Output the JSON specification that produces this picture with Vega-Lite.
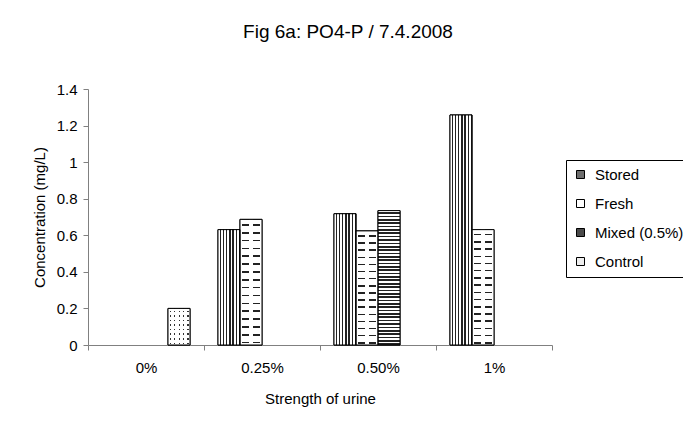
{
  "$schema": "https://vega.github.io/schema/vega-lite/v6.json",
  "width": 464,
  "height": 256,
  "autosize": {"type": "none"},
  "padding": {"left": 88, "top": 89, "right": 131, "bottom": 83},
  "background": "white",
  "title": {"text": "Fig 6a: PO4-P / 7.4.2008", "fontSize": 19, "fontWeight": "normal", "font": "Liberation Sans", "color": "black", "anchor": "middle", "dx": 28, "offset": 40},
  "data": {"values": [
    {"strength": "0%", "series": "Control", "value": 0.2},
    {"strength": "0.25%", "series": "Stored", "value": 0.631},
    {"strength": "0.25%", "series": "Fresh", "value": 0.687},
    {"strength": "0.50%", "series": "Stored", "value": 0.718},
    {"strength": "0.50%", "series": "Fresh", "value": 0.624},
    {"strength": "0.50%", "series": "Mixed (0.5%)", "value": 0.735},
    {"strength": "1%", "series": "Stored", "value": 1.258},
    {"strength": "1%", "series": "Fresh", "value": 0.631}
  ]},
  "encoding": {
    "x": {"field": "strength", "type": "nominal", "sort": null, "title": "Strength of urine",
      "scale": {"domain": ["0%", "0.25%", "0.50%", "1%"], "paddingInner": 0, "paddingOuter": 0},
      "axis": {"labelAngle": 0, "tickBand": "extent", "tickSize": 5, "labelPadding": 10, "titlePadding": 16, "domainColor": "#808080", "tickColor": "#808080", "labelFontSize": 15, "titleFontSize": 15, "titleFontWeight": "normal", "grid": false}},
    "xOffset": {"field": "series", "type": "nominal",
      "scale": {"domain": ["Stored", "Fresh", "Mixed (0.5%)", "Control"], "paddingInner": 0, "paddingOuter": 0.636}},
    "y": {"field": "value", "type": "quantitative", "title": "Concentration (mg/L)",
      "scale": {"domain": [0, 1.4], "nice": false},
      "axis": {"values": [0, 0.2, 0.4, 0.6, 0.8, 1, 1.2, 1.4], "format": "~g", "tickSize": 5, "labelPadding": 6, "titlePadding": 9, "domainColor": "#808080", "tickColor": "#808080", "labelFontSize": 15, "titleFontSize": 15, "titleFontWeight": "normal", "grid": false}}
  },
  "layer": [
    {
      "mark": {"type": "bar", "stroke": "black", "strokeWidth": 1},
      "encoding": {
        "fill": {"field": "series", "type": "nominal",
          "scale": {"domain": ["Stored", "Fresh", "Mixed (0.5%)", "Control"], "range": ["#6e6e6e", "white", "#4a4a4a", "#eeeeee"]},
          "legend": {"title": null, "orient": "none", "legendX": 478, "legendY": 71, "strokeColor": "black", "padding": 7, "symbolType": "square", "symbolSize": 64, "symbolStrokeColor": "black", "symbolStrokeWidth": 1, "labelFontSize": 15, "labelFont": "Liberation Sans", "labelColor": "black", "rowPadding": 13, "labelOffset": 7, "labelLimit": 200}}
      }
    },
    {
      "transform": [{"filter": "datum.series === 'Stored'"}],
      "mark": {"type": "bar", "fill": {"gradient": "linear", "x1": 0, "y1": 0, "x2": 1, "y2": 0, "stops": [
        {"offset": 0, "color": "white"}, {"offset": 0.0857, "color": "white"}, {"offset": 0.0857, "color": "#222"}, {"offset": 0.1429, "color": "#222"},
        {"offset": 0.1429, "color": "white"}, {"offset": 0.2286, "color": "white"}, {"offset": 0.2286, "color": "#222"}, {"offset": 0.2857, "color": "#222"},
        {"offset": 0.2857, "color": "white"}, {"offset": 0.3714, "color": "white"}, {"offset": 0.3714, "color": "#222"}, {"offset": 0.4286, "color": "#222"},
        {"offset": 0.4286, "color": "white"}, {"offset": 0.5143, "color": "white"}, {"offset": 0.5143, "color": "#222"}, {"offset": 0.5714, "color": "#222"},
        {"offset": 0.5714, "color": "white"}, {"offset": 0.6571, "color": "white"}, {"offset": 0.6571, "color": "#222"}, {"offset": 0.7143, "color": "#222"},
        {"offset": 0.7143, "color": "white"}, {"offset": 0.8, "color": "white"}, {"offset": 0.8, "color": "#222"}, {"offset": 0.8571, "color": "#222"},
        {"offset": 0.8571, "color": "white"}, {"offset": 0.9429, "color": "white"}, {"offset": 0.9429, "color": "#222"}, {"offset": 1, "color": "#222"}
      ]}}
    },
    {
      "transform": [{"filter": "datum.series === 'Mixed (0.5%)'"}],
      "mark": {"type": "bar", "fill": {"gradient": "linear", "x1": 0, "y1": 0, "x2": 0, "y2": 1, "stops": [
        {"offset": 0, "color": "white"}, {"offset": 0.0125, "color": "white"}, {"offset": 0.0125, "color": "#222"}, {"offset": 0.025, "color": "#222"},
        {"offset": 0.025, "color": "white"}, {"offset": 0.0375, "color": "white"}, {"offset": 0.0375, "color": "#222"}, {"offset": 0.05, "color": "#222"},
        {"offset": 0.05, "color": "white"}, {"offset": 0.0625, "color": "white"}, {"offset": 0.0625, "color": "#222"}, {"offset": 0.075, "color": "#222"},
        {"offset": 0.075, "color": "white"}, {"offset": 0.0875, "color": "white"}, {"offset": 0.0875, "color": "#222"}, {"offset": 0.1, "color": "#222"},
        {"offset": 0.1, "color": "white"}, {"offset": 0.1125, "color": "white"}, {"offset": 0.1125, "color": "#222"}, {"offset": 0.125, "color": "#222"},
        {"offset": 0.125, "color": "white"}, {"offset": 0.1375, "color": "white"}, {"offset": 0.1375, "color": "#222"}, {"offset": 0.15, "color": "#222"},
        {"offset": 0.15, "color": "white"}, {"offset": 0.1625, "color": "white"}, {"offset": 0.1625, "color": "#222"}, {"offset": 0.175, "color": "#222"},
        {"offset": 0.175, "color": "white"}, {"offset": 0.1875, "color": "white"}, {"offset": 0.1875, "color": "#222"}, {"offset": 0.2, "color": "#222"},
        {"offset": 0.2, "color": "white"}, {"offset": 0.2125, "color": "white"}, {"offset": 0.2125, "color": "#222"}, {"offset": 0.225, "color": "#222"},
        {"offset": 0.225, "color": "white"}, {"offset": 0.2375, "color": "white"}, {"offset": 0.2375, "color": "#222"}, {"offset": 0.25, "color": "#222"},
        {"offset": 0.25, "color": "white"}, {"offset": 0.2625, "color": "white"}, {"offset": 0.2625, "color": "#222"}, {"offset": 0.275, "color": "#222"},
        {"offset": 0.275, "color": "white"}, {"offset": 0.2875, "color": "white"}, {"offset": 0.2875, "color": "#222"}, {"offset": 0.3, "color": "#222"},
        {"offset": 0.3, "color": "white"}, {"offset": 0.3125, "color": "white"}, {"offset": 0.3125, "color": "#222"}, {"offset": 0.325, "color": "#222"},
        {"offset": 0.325, "color": "white"}, {"offset": 0.3375, "color": "white"}, {"offset": 0.3375, "color": "#222"}, {"offset": 0.35, "color": "#222"},
        {"offset": 0.35, "color": "white"}, {"offset": 0.3625, "color": "white"}, {"offset": 0.3625, "color": "#222"}, {"offset": 0.375, "color": "#222"},
        {"offset": 0.375, "color": "white"}, {"offset": 0.3875, "color": "white"}, {"offset": 0.3875, "color": "#222"}, {"offset": 0.4, "color": "#222"},
        {"offset": 0.4, "color": "white"}, {"offset": 0.4125, "color": "white"}, {"offset": 0.4125, "color": "#222"}, {"offset": 0.425, "color": "#222"},
        {"offset": 0.425, "color": "white"}, {"offset": 0.4375, "color": "white"}, {"offset": 0.4375, "color": "#222"}, {"offset": 0.45, "color": "#222"},
        {"offset": 0.45, "color": "white"}, {"offset": 0.4625, "color": "white"}, {"offset": 0.4625, "color": "#222"}, {"offset": 0.475, "color": "#222"},
        {"offset": 0.475, "color": "white"}, {"offset": 0.4875, "color": "white"}, {"offset": 0.4875, "color": "#222"}, {"offset": 0.5, "color": "#222"},
        {"offset": 0.5, "color": "white"}, {"offset": 0.5125, "color": "white"}, {"offset": 0.5125, "color": "#222"}, {"offset": 0.525, "color": "#222"},
        {"offset": 0.525, "color": "white"}, {"offset": 0.5375, "color": "white"}, {"offset": 0.5375, "color": "#222"}, {"offset": 0.55, "color": "#222"},
        {"offset": 0.55, "color": "white"}, {"offset": 0.5625, "color": "white"}, {"offset": 0.5625, "color": "#222"}, {"offset": 0.575, "color": "#222"},
        {"offset": 0.575, "color": "white"}, {"offset": 0.5875, "color": "white"}, {"offset": 0.5875, "color": "#222"}, {"offset": 0.6, "color": "#222"},
        {"offset": 0.6, "color": "white"}, {"offset": 0.6125, "color": "white"}, {"offset": 0.6125, "color": "#222"}, {"offset": 0.625, "color": "#222"},
        {"offset": 0.625, "color": "white"}, {"offset": 0.6375, "color": "white"}, {"offset": 0.6375, "color": "#222"}, {"offset": 0.65, "color": "#222"},
        {"offset": 0.65, "color": "white"}, {"offset": 0.6625, "color": "white"}, {"offset": 0.6625, "color": "#222"}, {"offset": 0.675, "color": "#222"},
        {"offset": 0.675, "color": "white"}, {"offset": 0.6875, "color": "white"}, {"offset": 0.6875, "color": "#222"}, {"offset": 0.7, "color": "#222"},
        {"offset": 0.7, "color": "white"}, {"offset": 0.7125, "color": "white"}, {"offset": 0.7125, "color": "#222"}, {"offset": 0.725, "color": "#222"},
        {"offset": 0.725, "color": "white"}, {"offset": 0.7375, "color": "white"}, {"offset": 0.7375, "color": "#222"}, {"offset": 0.75, "color": "#222"},
        {"offset": 0.75, "color": "white"}, {"offset": 0.7625, "color": "white"}, {"offset": 0.7625, "color": "#222"}, {"offset": 0.775, "color": "#222"},
        {"offset": 0.775, "color": "white"}, {"offset": 0.7875, "color": "white"}, {"offset": 0.7875, "color": "#222"}, {"offset": 0.8, "color": "#222"},
        {"offset": 0.8, "color": "white"}, {"offset": 0.8125, "color": "white"}, {"offset": 0.8125, "color": "#222"}, {"offset": 0.825, "color": "#222"},
        {"offset": 0.825, "color": "white"}, {"offset": 0.8375, "color": "white"}, {"offset": 0.8375, "color": "#222"}, {"offset": 0.85, "color": "#222"},
        {"offset": 0.85, "color": "white"}, {"offset": 0.8625, "color": "white"}, {"offset": 0.8625, "color": "#222"}, {"offset": 0.875, "color": "#222"},
        {"offset": 0.875, "color": "white"}, {"offset": 0.8875, "color": "white"}, {"offset": 0.8875, "color": "#222"}, {"offset": 0.9, "color": "#222"},
        {"offset": 0.9, "color": "white"}, {"offset": 0.9125, "color": "white"}, {"offset": 0.9125, "color": "#222"}, {"offset": 0.925, "color": "#222"},
        {"offset": 0.925, "color": "white"}, {"offset": 0.9375, "color": "white"}, {"offset": 0.9375, "color": "#222"}, {"offset": 0.95, "color": "#222"},
        {"offset": 0.95, "color": "white"}, {"offset": 0.9625, "color": "white"}, {"offset": 0.9625, "color": "#222"}, {"offset": 0.975, "color": "#222"},
        {"offset": 0.975, "color": "white"}, {"offset": 0.9875, "color": "white"}, {"offset": 0.9875, "color": "#222"}, {"offset": 1, "color": "#222"}
      ]}}
    },
    {
      "transform": [{"filter": "datum.series === 'Fresh'"}],
      "mark": {"type": "bar", "fill": {"gradient": "linear", "x1": 0, "y1": 0, "x2": 0, "y2": 1, "stops": [
        {"offset": 0, "color": "white"},
        {"offset": 0.0375, "color": "white"}, {"offset": 0.0375, "color": "#222"}, {"offset": 0.05, "color": "#222"}, {"offset": 0.05, "color": "white"},
        {"offset": 0.1, "color": "white"}, {"offset": 0.1, "color": "#222"}, {"offset": 0.1125, "color": "#222"}, {"offset": 0.1125, "color": "white"},
        {"offset": 0.1625, "color": "white"}, {"offset": 0.1625, "color": "#222"}, {"offset": 0.175, "color": "#222"}, {"offset": 0.175, "color": "white"},
        {"offset": 0.225, "color": "white"}, {"offset": 0.225, "color": "#222"}, {"offset": 0.2375, "color": "#222"}, {"offset": 0.2375, "color": "white"},
        {"offset": 0.2875, "color": "white"}, {"offset": 0.2875, "color": "#222"}, {"offset": 0.3, "color": "#222"}, {"offset": 0.3, "color": "white"},
        {"offset": 0.35, "color": "white"}, {"offset": 0.35, "color": "#222"}, {"offset": 0.3625, "color": "#222"}, {"offset": 0.3625, "color": "white"},
        {"offset": 0.4125, "color": "white"}, {"offset": 0.4125, "color": "#222"}, {"offset": 0.425, "color": "#222"}, {"offset": 0.425, "color": "white"},
        {"offset": 0.475, "color": "white"}, {"offset": 0.475, "color": "#222"}, {"offset": 0.4875, "color": "#222"}, {"offset": 0.4875, "color": "white"},
        {"offset": 0.5375, "color": "white"}, {"offset": 0.5375, "color": "#222"}, {"offset": 0.55, "color": "#222"}, {"offset": 0.55, "color": "white"},
        {"offset": 0.6, "color": "white"}, {"offset": 0.6, "color": "#222"}, {"offset": 0.6125, "color": "#222"}, {"offset": 0.6125, "color": "white"},
        {"offset": 0.6625, "color": "white"}, {"offset": 0.6625, "color": "#222"}, {"offset": 0.675, "color": "#222"}, {"offset": 0.675, "color": "white"},
        {"offset": 0.725, "color": "white"}, {"offset": 0.725, "color": "#222"}, {"offset": 0.7375, "color": "#222"}, {"offset": 0.7375, "color": "white"},
        {"offset": 0.7875, "color": "white"}, {"offset": 0.7875, "color": "#222"}, {"offset": 0.8, "color": "#222"}, {"offset": 0.8, "color": "white"},
        {"offset": 0.85, "color": "white"}, {"offset": 0.85, "color": "#222"}, {"offset": 0.8625, "color": "#222"}, {"offset": 0.8625, "color": "white"},
        {"offset": 0.9125, "color": "white"}, {"offset": 0.9125, "color": "#222"}, {"offset": 0.925, "color": "#222"}, {"offset": 0.925, "color": "white"},
        {"offset": 0.975, "color": "white"}, {"offset": 0.975, "color": "#222"}, {"offset": 0.9875, "color": "#222"}, {"offset": 0.9875, "color": "white"},
        {"offset": 1, "color": "white"}
      ]}}
    },
    {
      "transform": [{"filter": "datum.series === 'Fresh'"}],
      "mark": {"type": "bar", "fill": {"gradient": "linear", "x1": 0, "y1": 0, "x2": 1, "y2": 0, "stops": [
        {"offset": 0, "color": "white"}, {"offset": 0.1, "color": "white"}, {"offset": 0.1, "color": "rgba(255,255,255,0)"}, {"offset": 0.4, "color": "rgba(255,255,255,0)"},
        {"offset": 0.4, "color": "white"}, {"offset": 0.6, "color": "white"}, {"offset": 0.6, "color": "rgba(255,255,255,0)"}, {"offset": 0.9, "color": "rgba(255,255,255,0)"},
        {"offset": 0.9, "color": "white"}, {"offset": 1, "color": "white"}
      ]}}
    },
    {
      "transform": [{"filter": "datum.series === 'Control'"}],
      "mark": {"type": "bar", "fill": {"gradient": "linear", "x1": 0, "y1": 0, "x2": 0, "y2": 1, "stops": [
        {"offset": 0, "color": "white"},
        {"offset": 0.06, "color": "white"}, {"offset": 0.06, "color": "#333"}, {"offset": 0.1, "color": "#333"}, {"offset": 0.1, "color": "white"},
        {"offset": 0.185, "color": "white"}, {"offset": 0.185, "color": "#333"}, {"offset": 0.225, "color": "#333"}, {"offset": 0.225, "color": "white"},
        {"offset": 0.31, "color": "white"}, {"offset": 0.31, "color": "#333"}, {"offset": 0.35, "color": "#333"}, {"offset": 0.35, "color": "white"},
        {"offset": 0.435, "color": "white"}, {"offset": 0.435, "color": "#333"}, {"offset": 0.475, "color": "#333"}, {"offset": 0.475, "color": "white"},
        {"offset": 0.56, "color": "white"}, {"offset": 0.56, "color": "#333"}, {"offset": 0.6, "color": "#333"}, {"offset": 0.6, "color": "white"},
        {"offset": 0.685, "color": "white"}, {"offset": 0.685, "color": "#333"}, {"offset": 0.725, "color": "#333"}, {"offset": 0.725, "color": "white"},
        {"offset": 0.81, "color": "white"}, {"offset": 0.81, "color": "#333"}, {"offset": 0.85, "color": "#333"}, {"offset": 0.85, "color": "white"},
        {"offset": 0.935, "color": "white"}, {"offset": 0.935, "color": "#333"}, {"offset": 0.975, "color": "#333"}, {"offset": 0.975, "color": "white"},
        {"offset": 1, "color": "white"}
      ]}}
    },
    {
      "transform": [{"filter": "datum.series === 'Control'"}],
      "mark": {"type": "bar", "fill": {"gradient": "linear", "x1": 0, "y1": 0, "x2": 1, "y2": 0, "stops": [
        {"offset": 0, "color": "white"},
        {"offset": 0.08, "color": "white"}, {"offset": 0.08, "color": "rgba(255,255,255,0)"}, {"offset": 0.14, "color": "rgba(255,255,255,0)"}, {"offset": 0.14, "color": "white"},
        {"offset": 0.28, "color": "white"}, {"offset": 0.28, "color": "rgba(255,255,255,0)"}, {"offset": 0.34, "color": "rgba(255,255,255,0)"}, {"offset": 0.34, "color": "white"},
        {"offset": 0.48, "color": "white"}, {"offset": 0.48, "color": "rgba(255,255,255,0)"}, {"offset": 0.54, "color": "rgba(255,255,255,0)"}, {"offset": 0.54, "color": "white"},
        {"offset": 0.68, "color": "white"}, {"offset": 0.68, "color": "rgba(255,255,255,0)"}, {"offset": 0.74, "color": "rgba(255,255,255,0)"}, {"offset": 0.74, "color": "white"},
        {"offset": 0.88, "color": "white"}, {"offset": 0.88, "color": "rgba(255,255,255,0)"}, {"offset": 0.94, "color": "rgba(255,255,255,0)"}, {"offset": 0.94, "color": "white"},
        {"offset": 1, "color": "white"}
      ]}}
    },
    {
      "mark": {"type": "bar", "fillOpacity": 0, "stroke": "black", "strokeWidth": 1}
    }
  ],
  "config": {
    "view": {"stroke": null},
    "axis": {"labelFont": "Liberation Sans", "titleFont": "Liberation Sans", "labelColor": "black", "titleColor": "black"}
  }
}
